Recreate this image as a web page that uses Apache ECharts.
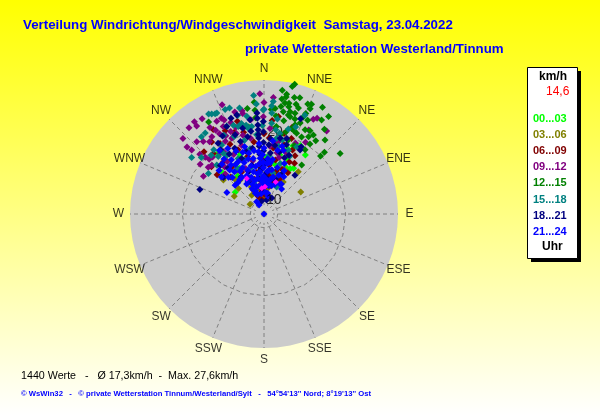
<!DOCTYPE html>
<html><head><meta charset="utf-8">
<style>html,body{margin:0;padding:0;background:#fff}#c{width:600px;height:415px}</style>
<script src="https://cdn.jsdelivr.net/npm/echarts@6/dist/echarts.min.js"></script>
</head><body><div id="c"></div>
<script>
const directionLabels=['N','NNE','NE','ENE','E','ESE','SE','SSE','S','SSW','SW','WSW','W','WNW','NW','NNW'];
const hourClasses=['00...03','03...06','06...09','09...12','12...15','15...18','18...21','21...24'];
const hourColors=['#00ff00','#808000','#800000','#800080','#008000','#008080','#000080','#0000ff'];
// [direction in degrees, speed in km/h]
const h00=[[307,13.3],[35,18.6],[33,16],[30,15.7],[15,17],[20,18.2],[23,18.9],[332,15.6],[345,15.2],[322,19.2],[327,18.3],[8,14.2],[12,15.5],[18,14.1],[352,13.4],[340,13.7],[3,16.4],[25,15.6],[338,17.4],[358,12.6],[28,19.4],[10,18.1],[325,14.8],[315,16.7],[5,12.8],[22,16.8]];
const h03=[[59,14.3],[301,13.1],[305,10.5],[327,11.3],[1,10.6],[19.5,13.6],[15,13.9],[22,14.2],[39,16],[31,13.5],[315,13.3],[325,14.1],[320,14.6],[335,12.4],[345,11.9],[352,11.6],[8,11.8],[12,12.7],[340,13],[330,15.4],[355,14.3],[5,13.2],[25,15.2],[348,10.4],[358,10.9],[310,15.8]];
const h06=[[329,22.5],[8.4,22.5],[5,21.8],[348.5,11],[342,10.7],[356,11.6],[5,12.5],[12,12.3],[16,14.6],[22,15.1],[26,16.5],[12,16.1],[8,17.8],[4,19.2],[16,18.6],[2,12],[340,13.4],[332,15],[326,16.4],[322,17.7],[338,18.2],[344,16.8],[350,14.2],[356,14.8],[352,18.7],[346,20.4],[340,20.8],[334,19.4],[328,20.2],[320,19.6],[318,15.3],[310,17],[358,16],[8,13.8],[18,12.8],[24,13.6],[30,15],[336,11.9],[352,10.1],[1,10.9],[345,13.3],[335,21.5],[14,20.2],[20,19.8],[6,15.2],[312,18.4],[316,20.7],[324,21.1],[344,22.2],[0,19.8],[18,21.4],[28,17.7],[31,16.7],[24,18.3]];
const h09=[[358,25.7],[4.6,25.2],[339,25.2],[327,24.7],[323,25],[319,24.8],[322.6,24.3],[313,24.3],[317,22.5],[311,23],[311.5,22.2],[313,20.9],[314,20],[302,18.5],[313,18.5],[310,18.7],[337,23],[336,23.4],[344,23.6],[348,23.5],[348,23.1],[359.6,22.3],[27.5,23.7],[29,24.1],[37,23.3],[28,22],[331,21.5],[326,21.7],[323,21.3],[330,22.2],[335,22.2],[338,21.1],[337,20.1],[341,20.5],[332,20.1],[324,19],[11,18.8],[318,19.3],[325,17.4],[333,17.8],[342,18.6],[350,19.3],[345,21.6],[320,17],[316,16.2],[328,15.6],[338,15.2],[348,16],[4,20.6],[15,16.6],[5,18],[2,13.2],[355,15.4],[345,20],[352,22],[352,12.3],[24,19.4],[30,20.2],[320,21.9],[328,23],[333,23.3],[340,22.3],[315,19.4],[308,19.9],[327,18.9],[334,20.8],[342,21.4],[348,21.2],[0,24.4],[8,18.3],[12,17.2],[20,17.6]];
const h12=[[13.3,27.6],[12.5,27.2],[8.4,26.4],[10.7,25.9],[10.7,25.5],[8.8,25.1],[14.6,25.7],[17.1,25.9],[12.7,24.7],[16.3,24.8],[10.7,24.6],[21.7,25.4],[23.4,25.6],[23.7,24.9],[28.7,25.9],[10.7,23.3],[14.3,23.5],[13.8,23],[17.1,23.5],[22.6,24],[22,23.4],[33.5,25.2],[31.5,24.2],[21.7,22.4],[19.2,21.9],[17.9,21.2],[22,20.8],[26,20.6],[28.9,22],[35.5,23.3],[32,21.7],[30,21.1],[35.2,21.2],[33.3,20.3],[39.5,22.1],[32.6,19.2],[44.4,20.7],[44.3,19.9],[51.5,22.3],[37.5,17.1],[329,23.8],[355,23.3],[351,23.7],[355,24.5],[7,22.5],[12,22],[15,20.5],[18,22.7],[8,21],[12,20],[18,19.4],[24,19],[355,22.2],[4,23.4],[350,21],[9,24],[13,24.2],[18,24.4],[6,23.6],[25,23.2],[20,21],[26,21.8],[15,22.8]];
const h15=[[355,25.5],[4.7,24.6],[331,24.8],[332.4,24.6],[334,24.4],[335,24.4],[339.6,24.4],[342,24.4],[347,24],[348.6,21.3],[349.6,20.8],[346,21.7],[324,22.7],[321,22.6],[308,21.5],[306,18.1],[322,20],[318,19.6],[4.8,21.4],[4.4,22.9],[359.6,23.3],[9.5,19.3],[11,20.1],[24,17.3],[26,19],[22.5,23.7],[327.7,18.2],[341,21.8],[343.6,21.4],[321.5,18.8],[328.5,19.9],[354.7,19.7],[21,18],[25,12.4],[345,23],[350,22.6],[337,22],[8,20.5],[16,21],[12,18.2],[5,16.6],[335,17],[330,15.8],[340,16.5],[348,17.8],[355,13.6],[342,12.8],[18,15.8],[12,14.2],[4,23.9],[20,21.6],[333,21],[339,20.2],[345,19.2],[326,18.9],[316,18],[312,20.4],[352,21],[356,24.2],[0,23.4],[359,21],[8,22.1],[14,19.2]];
const h18=[[291,18.1],[21,23],[356,22.9],[356,22.1],[356,21.1],[356,20.4],[356,19.7],[356,19.2],[359.6,21.6],[359.6,20.1],[336.9,22],[327,20.4],[16.7,19.6],[29,19.3],[29.4,18.8],[38.5,15.3],[351.5,22],[344.6,23.1],[341,22.9],[10.7,10.1],[349,9.9],[26,10.6],[5,19.1],[12,19.4],[18,18.7],[14,17.4],[6,17],[359.6,18.5],[359.6,17.3],[356,18],[356,16.8],[3,16],[359.6,15.2],[3,14],[356,14.6],[352,13.2],[348,19.6],[342,19.2],[336,18.6],[330,18.2],[322,16.6],[328,14.4],[334,13.2],[340,14.6],[346,15.4],[12,13.2],[18,13.4],[358,11.4],[6,13.2],[24,14.4],[350,17.8],[4,18.2],[346,21],[340,20.4],[332,21],[326,19.4],[318,17.6],[312,16],[338,16.8],[344,17.6],[351,20.3],[9,18.2],[20,16.8],[23,17.4]];
const h21=[[0,8],[300,14.3],[331,9.5],[329,10.1],[355,12],[355.5,13.1],[354.5,14.2],[355,15.4],[356,16.2],[355,17.2],[356,18.4],[358,12.6],[359,13.6],[359.4,14.8],[359,15.6],[358.6,16.7],[0,17.7],[4,11.2],[3.6,12.3],[4,13.1],[4.4,14.3],[3.7,15.4],[4,16.1],[350,12.1],[349.6,13.3],[351,14],[350,15.1],[349,16.3],[351,17.4],[345,12.2],[344,13.1],[346,14.4],[345,15.3],[344,16.4],[346,17.2],[344,18.3],[340,11.6],[339,12.7],[341,13.7],[340,14.9],[339,16.1],[341,17.6],[335,12.1],[334,13.4],[336,14.2],[335,15.5],[334,16.6],[336,18.1],[330,13.1],[329,14.3],[331,15.2],[330,16.4],[329,17.3],[331,19],[325,14.2],[325,15.6],[326,16.7],[324,18],[325,19.4],[320,14],[319,15.1],[322,16.2],[320,17.6],[315,14],[316,15.5],[314,17.2],[311,16.3],[10,11.1],[9,12.2],[10.6,13.2],[10,14.6],[9,16.1],[15,12.3],[14,13.6],[16,15.1],[20,12.6],[21,14.1],[30,13.1],[28,14.2],[7,12.6],[7,14.5],[7,15.6],[352,11],[342,11],[337,11.3],[12,10.7],[22,16],[17,17.8],[25,15],[28,13],[35,12.5],[12,17.6],[7,18.8],[15,18.3]];
const currentValues=[[2,12],[355,11.8],[334,13.8],[20,13]];
const ringValues=[10,20];
const ringAngles=[0,15,30,45,60,75,90,105,120,135,150,165,180,195,210,225,240,255,270,285,300,315,330,345,360];
const hourData=[h00,h03,h06,h09,h12,h15,h18,h21];
const axisMin=8, axisMax=27.7, compassLabelValue=29.4;

const F='"Liberation Sans",Arial,sans-serif';
const chart=echarts.init(document.getElementById('c'),null,{renderer:'canvas'});
const series=[];
const solid=c=>({color:c,opacity:1});
series.push({type:'scatter',coordinateSystem:'polar',silent:true,z:0,symbol:'circle',symbolSize:268,itemStyle:solid('#cbcbcb'),data:[[axisMin,0]]});
directionLabels.forEach((n,i)=>series.push({type:'line',coordinateSystem:'polar',silent:true,symbol:'none',z:1,
  data:[[axisMin,i*22.5],[axisMax,i*22.5]],lineStyle:{color:'#808080',width:1,type:[4,3]}}));
ringValues.forEach(v=>series.push({type:'line',coordinateSystem:'polar',silent:true,symbol:'none',z:1,
  data:ringAngles.map(a=>[v,a]),smooth:false,lineStyle:{color:'#808080',width:1,type:[4,3]}}));
series.push({type:'scatter',coordinateSystem:'polar',silent:true,z:1,symbol:'circle',symbolSize:18,itemStyle:solid('#cbcbcb'),data:[[axisMin,0]]});
series.push({type:'scatter',coordinateSystem:'polar',silent:true,z:1,symbol:'rect',symbolSize:5,itemStyle:solid('#808080'),data:[[axisMin,0]]});
series.push({type:'scatter',coordinateSystem:'polar',silent:true,z:1,symbolSize:0,data:[[20.2,7.6]],
  label:{show:true,position:'inside',formatter:'20',color:'#000',fontFamily:F,fontSize:14}});
series.push({type:'scatter',coordinateSystem:'polar',silent:true,z:1,symbolSize:1,clip:false,
  itemStyle:{color:'transparent'},
  data:directionLabels.map((n,i)=>({name:n,value:[compassLabelValue,i*22.5]})),
  label:{show:true,position:'inside',formatter:p=>p.name,color:'#000',fontFamily:F,fontSize:12}});
hourClasses.forEach((name,i)=>series.push({name,type:'scatter',coordinateSystem:'polar',z:3+i,silent:true,
  symbol:'diamond',symbolSize:7,itemStyle:solid(hourColors[i]),
  data:hourData[i].map(p=>[p[1],p[0]])}));
series.push({type:'scatter',coordinateSystem:'polar',z:12,silent:true,symbol:'diamond',symbolSize:6,itemStyle:solid('#ff00ff'),
  data:currentValues.map(p=>[p[1],p[0]])});
series.push({type:'scatter',coordinateSystem:'polar',silent:true,z:13,symbolSize:0,data:[[10.5,35]],
  label:{show:true,position:'inside',formatter:'10',color:'#000',fontFamily:F,fontSize:14}});

const txt=(left,top,text,color,size,weight,family)=>({type:'text',left,top,z:20,silent:true,
  style:{text,fill:color,font:(weight||'normal')+' '+size+'px '+(family||F)}});
chart.setOption({
  animation:false,
  backgroundColor:{type:'linear',x:0,y:0,x2:0,y2:1,colorStops:[{offset:0,color:'#ffff00'},{offset:1,color:'#ffffff'}]},
  polar:{center:[264,214],radius:134},
  angleAxis:{type:'value',min:0,max:360,interval:22.5,startAngle:90,clockwise:true,silent:true,
    axisLine:{show:false},axisTick:{show:false},axisLabel:{show:false},splitLine:{show:false},splitArea:{show:false}},
  radiusAxis:{type:'value',min:axisMin,max:axisMax,silent:true,axisLine:{show:false},axisTick:{show:false},axisLabel:{show:false},splitLine:{show:false}},
  legend:{show:true,z:30,orient:'vertical',left:528,top:113,itemGap:4.6,itemWidth:0,itemHeight:12,icon:'none',selectedMode:false,padding:0,
    data:hourClasses.map((name,i)=>({name,icon:'none',textStyle:{color:hourColors[i],fontFamily:F,fontWeight:'bold',fontSize:11}}))},
  series,
  graphic:[
    {type:'rect',z:15,silent:true,shape:{x:531,y:71,width:50,height:191},style:{fill:'#000'}},
    {type:'rect',z:16,silent:true,shape:{x:527.5,y:67.5,width:50,height:191},style:{fill:'#fff',stroke:'#000',lineWidth:1}},
    txt(539,71,'km/h','#000',12,'bold'),
    txt(546,86,'14,6','#ff0000',12),
    txt(542,241,'Uhr','#000',12,'bold'),
    txt(23,19,'Verteilung Windrichtung/Windgeschwindigkeit  Samstag, 23.04.2022','#0000ff',13.3,'bold'),
    txt(245,43,'private Wetterstation Westerland/Tinnum','#0000ff',13.3,'bold'),
    txt(21,371,'1440 Werte   -   Ø 17,3km/h  -  Max. 27,6km/h','#000',10.7),
    txt(21,390,'© WsWin32   -   © private Wetterstation Tinnum/Westerland/Sylt   -   54°54\'13\'\' Nord; 8°19\'13\'\' Ost','#0000ff',7.7,'bold')
  ]
});
</script></body></html>
